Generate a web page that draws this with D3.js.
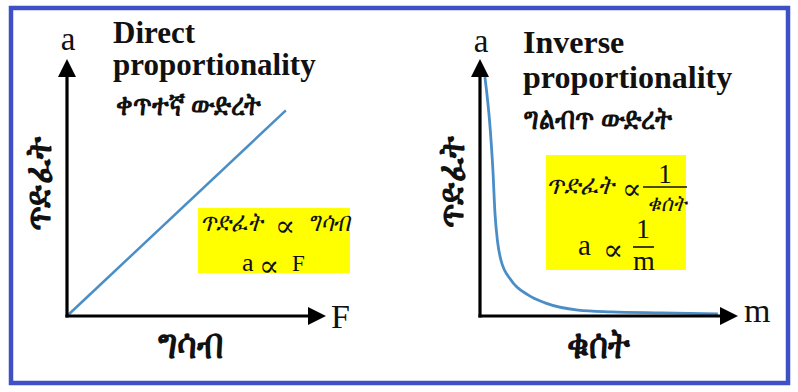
<!DOCTYPE html>
<html>
<head>
<meta charset="utf-8">
<script src="https://cdn.jsdelivr.net/npm/d3@7"></script>
<style>
  body { margin: 0; background: #fff; }
  svg text { font-family: "Liberation Serif", "DejaVu Serif", serif; fill: #111; }
  svg text.prop { font-family: "DejaVu Serif", serif; }
</style>
</head>
<body>
<div id="chart"></div>
<script>
// Direct proportionality: a = k * F (two ends of the straight line)
let directF = [0, 84.5];
let directA = [0, 80];

// Inverse proportionality: a ~ 1/m
let inverseM = [1.9, 3.9, 5.0, 5.8, 6.8, 8.1, 12, 18.6, 25.2, 38, 50.8, 70.2, 92.2];
let inverseA = [93, 73.5, 56.8, 40, 29, 21.8, 14, 8.2, 5.1, 2.3, 1.6, 1.2, 0.8];

let width = 798, height = 392;
let axisColor = "#000";
let lineColor = "#4a8ec7";

let svg = d3.select("#chart")
  .append("svg")
  .attr("width", width)
  .attr("height", height);

// outer frame
svg.append("rect")
  .attr("x", 11).attr("y", 8)
  .attr("width", 777).attr("height", 375)
  .attr("fill", "none")
  .attr("stroke", "#3f4fc6")
  .attr("stroke-width", 4.5);

svg.append("defs").append("marker")
  .attr("id", "arrow")
  .attr("viewBox", "0 0 10 10")
  .attr("refX", 0).attr("refY", 5)
  .attr("markerUnits", "userSpaceOnUse")
  .attr("markerWidth", 18).attr("markerHeight", 20)
  .attr("orient", "auto")
  .append("path")
  .attr("d", "M0,0L10,5L0,10Z")
  .attr("fill", axisColor);

// draws the two arrowed axes of one panel
function drawAxes(g, xScale, yScale) {
  let x0 = xScale(0), y0 = yScale(0);
  let xEnd = xScale.range()[1], yEnd = yScale.range()[1];
  g.append("line")
    .attr("x1", x0).attr("y1", y0 + 1.5)
    .attr("x2", x0).attr("y2", yEnd + 18)
    .attr("stroke", axisColor).attr("stroke-width", 3.2)
    .attr("marker-end", "url(#arrow)");
  g.append("line")
    .attr("x1", x0 - 1.5).attr("y1", y0)
    .attr("x2", xEnd - 18).attr("y2", y0)
    .attr("stroke", axisColor).attr("stroke-width", 3.2)
    .attr("marker-end", "url(#arrow)");
}

// opts.len squeezes/stretches a string to a measured width
function addText(g, x, y, str, size, opts) {
  opts = opts || {};
  let t = g.append("text")
    .attr("x", x).attr("y", y)
    .attr("font-size", size)
    .attr("font-weight", opts.bold ? "bold" : "normal")
    .attr("font-style", opts.italic ? "italic" : "normal")
    .attr("text-anchor", opts.anchor || "start")
    .attr("transform", opts.rotate ? "rotate(-90," + x + "," + y + ")" : null)
    .text(str);
  if (opts.len) {
    t.attr("textLength", opts.len).attr("lengthAdjust", "spacingAndGlyphs");
  }
  return t;
}

// the "proportional to" sign (its glyph sits high, so it is dropped a bit)
function propSign(g, x, y, size) {
  addText(g, x, y + 6, "∝", size).attr("class", "prop");
}

function fractionBar(g, x1, x2, y) {
  g.append("line")
    .attr("x1", x1).attr("x2", x2).attr("y1", y).attr("y2", y)
    .attr("stroke", "#111").attr("stroke-width", 1.6);
}

////////////////////////////////////////////////////////////////////////
// Left panel: direct proportionality

let left = svg.append("g");
let xL = d3.scaleLinear().domain([0, 100]).range([67, 326]);
let yL = d3.scaleLinear().domain([0, 100]).range([316, 59]);

left.append("path")
  .datum(d3.zip(directF, directA))
  .attr("d", d3.line().x(d => xL(d[0])).y(d => yL(d[1])))
  .attr("fill", "none")
  .attr("stroke", lineColor)
  .attr("stroke-width", 2.5);

drawAxes(left, xL, yL);

addText(left, 68, 50, "a", 33, {anchor: "middle"});
addText(left, 331, 328, "F", 34);
addText(left, 113, 43, "Direct", 31, {bold: true});
addText(left, 113, 75, "proportionality", 31, {bold: true});
addText(left, 116, 115, "ቀጥተኛ ውድረት", 31, {bold: true, len: 145});
addText(left, 51, 184, "ጥድፈት", 37, {bold: true, rotate: true, anchor: "middle", len: 94});
addText(left, 158, 358, "ግሳብ", 42, {bold: true, len: 65});

left.append("rect")
  .attr("x", 198).attr("y", 208)
  .attr("width", 152).attr("height", 65)
  .attr("fill", "#ffff00");
addText(left, 200, 231, "ጥድፈት", 27, {italic: true, len: 62});
propSign(left, 275, 230, 30);
addText(left, 308, 231, "ግሳብ", 27, {italic: true, len: 42});
addText(left, 242, 271, "a", 26);
propSign(left, 259, 270, 30);
addText(left, 292, 271, "F", 23);

////////////////////////////////////////////////////////////////////////
// Right panel: inverse proportionality

let right = svg.append("g");
let xR = d3.scaleLinear().domain([0, 100]).range([480, 738]);
let yR = d3.scaleLinear().domain([0, 100]).range([316, 59]);

right.append("path")
  .datum(d3.zip(inverseM, inverseA))
  .attr("d", d3.line().curve(d3.curveMonotoneX).x(d => xR(d[0])).y(d => yR(d[1])))
  .attr("fill", "none")
  .attr("stroke", lineColor)
  .attr("stroke-width", 2.8);

drawAxes(right, xR, yR);

addText(right, 481, 52, "a", 33, {anchor: "middle"});
addText(right, 744, 322, "m", 34);
addText(right, 523, 53, "Inverse", 32, {bold: true});
addText(right, 523, 88, "proportionality", 32, {bold: true});
addText(right, 524, 129, "ግልብጥ ውድረት", 31, {bold: true, len: 148});
addText(right, 464, 182, "ጥድፈት", 37, {bold: true, rotate: true, anchor: "middle", len: 92});
addText(right, 567, 358, "ቁሰት", 42, {bold: true, len: 63});

right.append("rect")
  .attr("x", 546).attr("y", 155)
  .attr("width", 140).attr("height", 115)
  .attr("fill", "#ffff00");
addText(right, 546, 194, "ጥድፈት", 27, {italic: true, len: 68});
propSign(right, 622, 193, 29);
addText(right, 665, 183, "1", 27, {anchor: "middle"});
fractionBar(right, 643, 687, 187);
addText(right, 647, 211, "ቁሰት", 23, {italic: true, len: 40});
addText(right, 578, 255, "a", 29);
propSign(right, 603, 254, 30);
addText(right, 643, 238, "1", 28, {anchor: "middle"});
fractionBar(right, 633, 654, 247);
addText(right, 644, 270, "m", 28, {anchor: "middle"});
</script>
</body>
</html>
